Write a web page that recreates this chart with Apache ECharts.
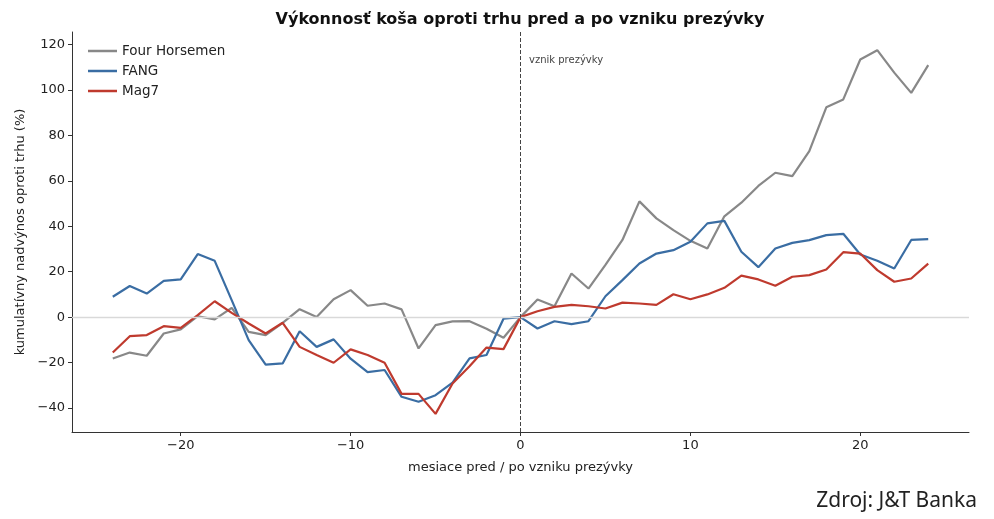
<!DOCTYPE html>
<html>
<head>
<meta charset="utf-8">
<script src="https://cdn.jsdelivr.net/npm/echarts@6/dist/echarts.min.js"></script>
<style>
html, body { margin: 0; padding: 0; background: #fff; }
#chart { width: 994px; height: 519px; }
</style>
</head>
<body>
<div id="chart"></div>
<script>
"use strict";
// mesiace pred / po vzniku prezyvky
var months = [-24, -23, -22, -21, -20, -19, -18, -17, -16, -15, -14, -13, -12, -11, -10, -9, -8, -7, -6, -5, -4, -3, -2, -1,
    0, 1, 2, 3, 4, 5, 6, 7, 8, 9, 10, 11, 12, 13, 14, 15, 16, 17, 18, 19, 20, 21, 22, 23, 24];

var fourHorsemen = [-18.2, -15.6, -17, -7.2, -5.4, 0.4, -1, 4.1, -6.5, -7.9, -2.5, 3.5, 0.1, 7.9, 11.9, 5, 6, 3.4, -13.8, -3.5, -1.9, -1.8, -5.1, -9.1,
    0, 7.8, 4.8, 19.2, 12.6, 23, 34, 51, 43.5, 38.3, 33.6, 30.2, 44.4, 50.4, 57.8, 63.6, 62.1, 73.1, 92.4, 95.9, 113.5, 117.6, 107.7, 98.8, 111];
var fang = [9, 13.7, 10.4, 16, 16.6, 27.8, 24.8, 7.5, -10.1, -20.9, -20.4, -6.2, -13.1, -9.8, -18.3, -24.2, -23.3, -35.1, -37.3, -34.4, -28.9, -18.2, -16.7, -0.7,
    0, -5, -1.8, -3.1, -1.8, 9.2, 16.3, 23.6, 28, 29.5, 33.2, 41.3, 42.4, 28.8, 22, 30.2, 32.7, 33.9, 36.1, 36.7, 27.6, 24.8, 21.4, 34, 34.4];
var mag7 = [-15.6, -8.4, -7.9, -4, -4.7, 0.9, 7, 1.9, -2.8, -7.2, -2.5, -13.1, -16.7, -20.1, -14.2, -16.7, -20.1, -33.8, -33.8, -42.6, -29.2, -21.6, -13.4, -14.1,
    0, 2.6, 4.5, 5.4, 4.8, 3.8, 6.4, 6, 5.4, 10.1, 7.9, 10, 12.9, 18.3, 16.6, 13.8, 17.8, 18.5, 21, 28.6, 28, 20.7, 15.6, 17, 23.6];

var xTicks = [-20, -10, 0, 10, 20];
var yTicks = [-40, -20, 0, 20, 40, 60, 80, 100, 120];

var font = "DejaVu Sans";
function pairs(vals) {
    return months.map(function (m, i) { return [m, vals[i]]; });
}
function minus(v) { return String(v).replace("-", "\u2212"); }

var chart = echarts.init(document.getElementById("chart"));
var option = {
    animation: false,
    backgroundColor: "#fff",
    textStyle: { fontFamily: font },
    grid: { left: 72, right: 25, top: 32, bottom: 87, containLabel: false },
    legend: {
        orient: "vertical",
        left: 83,
        top: 39,
        itemGap: 6,
        itemWidth: 29,
        itemHeight: 2.5,
        icon: "rect",
        textStyle: { fontFamily: font, fontSize: 13.5, color: "#222" },
        data: ["Four Horsemen", "FANG", "Mag7"]
    },
    xAxis: {
        type: "value",
        min: -26.4,
        max: 26.4,
        name: "mesiace pred / po vzniku prezývky",
        nameLocation: "middle",
        nameGap: 29,
        nameTextStyle: { fontFamily: font, fontSize: 13, color: "#222" },
        axisLine: { onZero: false, lineStyle: { color: "#333", width: 1 } },
        axisTick: { show: true, length: 4, customValues: xTicks, lineStyle: { color: "#333" } },
        axisLabel: { customValues: xTicks, margin: 7, fontSize: 13, color: "#222", formatter: minus },
        splitLine: { show: false }
    },
    yAxis: {
        type: "value",
        min: -50.6,
        max: 125.6,
        name: "kumulatívny nadvýnos oproti trhu (%)",
        nameLocation: "middle",
        nameGap: 44,
        nameTextStyle: { fontFamily: font, fontSize: 13, color: "#222" },
        axisLine: { show: true, onZero: false, lineStyle: { color: "#333", width: 1 } },
        axisTick: { show: true, length: 4, customValues: yTicks, lineStyle: { color: "#333" } },
        axisLabel: { customValues: yTicks, margin: 7, fontSize: 13, color: "#222", formatter: minus },
        splitLine: { show: false }
    },
    series: [
        {
            name: "Four Horsemen",
            type: "line",
            data: pairs(fourHorsemen),
            showSymbol: false,
            lineStyle: { color: "#888888", width: 2.2 },
            itemStyle: { color: "#888888" },
            markLine: {
                silent: true,
                symbol: "none",
                label: { show: false },
                data: [
                    { yAxis: 0, lineStyle: { color: "#d9d9d9", width: 1.3, type: "solid" } },
                    { xAxis: 0, lineStyle: { color: "#444", width: 1, type: [4, 2] } }
                ]
            }
        },
        {
            name: "FANG",
            type: "line",
            data: pairs(fang),
            showSymbol: false,
            lineStyle: { color: "#3a6da3", width: 2.2 },
            itemStyle: { color: "#3a6da3" }
        },
        {
            name: "Mag7",
            type: "line",
            data: pairs(mag7),
            showSymbol: false,
            lineStyle: { color: "#bf3a2e", width: 2.2 },
            itemStyle: { color: "#bf3a2e" }
        }
    ],
    graphic: [
        {
            type: "text",
            x: 520,
            y: 20,
            style: {
                text: "Výkonnosť koša oproti trhu pred a po vzniku prezývky",
                font: "bold 16px 'DejaVu Sans'",
                fill: "#111",
                textAlign: "center",
                textVerticalAlign: "middle"
            }
        },
        {
            type: "text",
            x: 529,
            y: 60,
            style: {
                text: "vznik prezývky",
                font: "10px 'DejaVu Sans'",
                fill: "#444",
                textAlign: "left",
                textVerticalAlign: "middle"
            }
        },
        {
            type: "text",
            x: 977,
            y: 501,
            style: {
                text: "Zdroj: J&T Banka",
                font: "21px 'Noto Sans'",
                fill: "#222",
                textAlign: "right",
                textVerticalAlign: "middle"
            }
        }
    ]
};
chart.setOption(option);
</script>
</body>
</html>
